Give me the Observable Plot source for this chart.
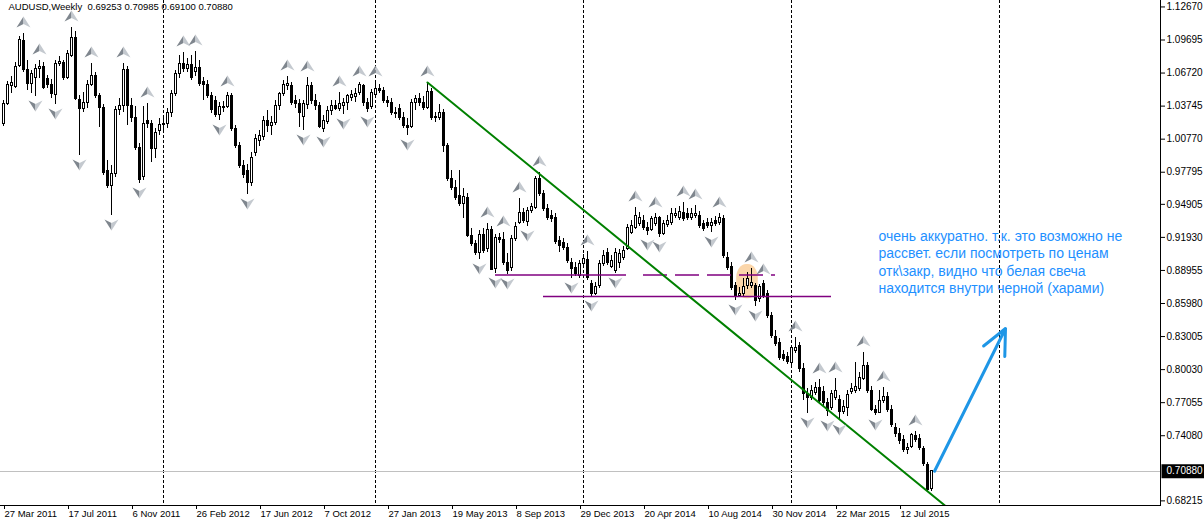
<!DOCTYPE html>
<html><head><meta charset="utf-8">
<script src="https://cdn.jsdelivr.net/npm/d3@7"></script>
<script src="https://cdn.jsdelivr.net/npm/@observablehq/plot@0.6"></script>
<style>
html,body{margin:0;padding:0;background:#fff;}
#chart{width:1204px;height:522px;overflow:hidden;}
</style></head><body><div id="chart"></div>
<script>
const symbolName = "AUDUSD,Weekly";
const firstWeek = "27 Mar 2011";

const open = [1.0218,1.0398,1.0560,1.0551,1.0740,1.0965,1.0704,1.0578,1.0632,1.0713,
1.0731,1.0623,1.0569,1.0479,1.0758,1.0767,1.0632,1.0830,1.0992,1.0434,
1.0353,1.0407,1.0569,1.0650,1.0470,1.0362,0.9795,0.9660,0.9768,1.0344,
1.0380,1.0704,1.0380,1.0272,1.0002,0.9741,1.0245,1.0218,0.9993,1.0155,
1.0209,1.0218,1.0317,1.0488,1.0668,1.0758,1.0713,1.0749,1.0686,1.0722,
1.0596,1.0569,1.0470,1.0425,1.0299,1.0371,1.0371,1.0470,1.0173,1.0020,
0.9840,0.9795,0.9687,0.9957,1.0065,1.0101,1.0245,1.0200,1.0227,1.0380,
1.0488,1.0560,1.0560,1.0425,1.0398,1.0281,1.0389,1.0560,1.0425,1.0380,
1.0173,1.0236,1.0335,1.0380,1.0353,1.0380,1.0407,1.0452,1.0461,1.0497,
1.0560,1.0407,1.0371,1.0479,1.0533,1.0515,1.0425,1.0407,1.0317,1.0353,
1.0272,1.0200,1.0191,1.0407,1.0443,1.0407,1.0362,1.0506,1.0281,1.0272,
1.0317,1.0020,0.9723,0.9642,0.9570,0.9498,0.9552,0.9210,0.9138,0.9057,
0.9219,0.9093,0.9264,0.8913,0.9192,0.9174,0.8967,0.8922,0.9183,0.9327,
0.9417,0.9336,0.9435,0.9462,0.9723,0.9588,0.9453,0.9390,0.9372,0.9165,
0.9147,0.9102,0.8967,0.8922,0.8850,0.8958,0.8994,0.8778,0.8688,0.8760,
0.8958,0.9057,0.8931,0.8895,0.8967,0.9012,0.9093,0.9237,0.9282,0.9318,
0.9345,0.9282,0.9264,0.9318,0.9372,0.9228,0.9309,0.9327,0.9390,0.9372,
0.9417,0.9408,0.9372,0.9390,0.9390,0.9318,0.9327,0.9300,0.9345,0.9327,
0.9363,0.9012,0.8931,0.8760,0.8670,0.8688,0.8760,0.8760,0.8760,0.8643,
0.8778,0.8688,0.8490,0.8301,0.8247,0.8139,0.8121,0.8067,0.8175,0.8220,
0.8013,0.7788,0.7752,0.7797,0.7842,0.7806,0.7707,0.7662,0.7752,0.7734,
0.7626,0.7662,0.7806,0.7815,0.7833,0.7923,0.8040,0.7815,0.7644,0.7617,
0.7725,0.7761,0.7644,0.7482,0.7428,0.7374,0.7284,0.7311,0.7410,0.7383,
0.7293,0.7149,0.69253];

const high = [1.0425,1.0596,1.0641,1.0767,1.1001,1.1028,1.0785,1.0695,1.0749,1.0785,
1.0767,1.0650,1.0614,1.0785,1.0821,1.0785,1.0875,1.1082,1.1046,1.0470,
1.0497,1.0605,1.0758,1.0677,1.0488,1.0389,0.9885,0.9840,1.0371,1.0443,
1.0758,1.0731,1.0443,1.0371,1.0038,1.0371,1.0398,1.0245,1.0173,1.0263,
1.0290,1.0353,1.0515,1.0695,1.0830,1.0857,1.0803,1.0830,1.0866,1.0785,
1.0632,1.0605,1.0497,1.0461,1.0407,1.0416,1.0497,1.0488,1.0200,1.0047,
0.9885,0.9849,0.9957,1.0119,1.0155,1.0281,1.0335,1.0281,1.0425,1.0497,
1.0605,1.0641,1.0587,1.0470,1.0434,1.0425,1.0632,1.0587,1.0479,1.0407,
1.0290,1.0371,1.0425,1.0425,1.0497,1.0443,1.0479,1.0515,1.0533,1.0587,
1.0569,1.0443,1.0524,1.0587,1.0569,1.0542,1.0461,1.0443,1.0362,1.0389,
1.0317,1.0263,1.0434,1.0470,1.0488,1.0461,1.0587,1.0533,1.0317,1.0389,
1.0344,1.0038,0.9795,0.9705,0.9795,0.9633,0.9588,0.9273,0.9165,0.9255,
0.9273,0.9318,0.9291,0.9219,0.9228,0.9237,0.9048,0.9210,0.9327,0.9543,
0.9453,0.9462,0.9498,0.9741,0.9777,0.9615,0.9489,0.9435,0.9408,0.9201,
0.9183,0.9138,0.9003,0.8967,0.8985,0.9039,0.9066,0.8805,0.8787,0.8985,
0.9075,0.9093,0.9030,0.9093,0.9084,0.9111,0.9309,0.9345,0.9462,0.9417,
0.9390,0.9327,0.9381,0.9408,0.9381,0.9345,0.9390,0.9453,0.9453,0.9471,
0.9507,0.9453,0.9453,0.9480,0.9426,0.9345,0.9363,0.9363,0.9381,0.9408,
0.9390,0.9057,0.8967,0.8787,0.8742,0.8823,0.8877,0.8913,0.8778,0.8769,
0.8805,0.8715,0.8517,0.8355,0.8283,0.8175,0.8157,0.8220,0.8292,0.8247,
0.8058,0.7833,0.7860,0.7887,0.7914,0.7851,0.7743,0.7815,0.7923,0.7770,
0.7725,0.7815,0.7878,0.8067,0.7977,0.8157,0.8067,0.7851,0.7680,0.7815,
0.7842,0.7797,0.7680,0.7518,0.7473,0.7410,0.7338,0.7428,0.7446,0.7419,
0.7311,0.7167,0.70985];

const low = [1.0191,1.0380,1.0488,1.0533,1.0722,1.0677,1.0515,1.0488,1.0461,1.0623,
1.0524,1.0533,1.0443,1.0389,1.0731,1.0605,1.0614,1.0812,1.0425,0.9930,
1.0317,1.0353,1.0551,1.0443,1.0182,0.9750,0.9633,0.9390,0.9732,1.0290,
1.0317,1.0200,1.0227,0.9975,0.9678,0.9705,1.0173,0.9867,0.9903,1.0110,
1.0155,1.0173,1.0272,1.0461,1.0623,1.0677,1.0677,1.0605,1.0641,1.0551,
1.0425,1.0443,1.0308,1.0272,1.0245,1.0317,1.0353,1.0146,0.9993,0.9813,
0.9723,0.9579,0.9651,0.9921,1.0011,1.0065,1.0137,1.0110,1.0200,1.0335,
1.0461,1.0515,1.0380,1.0353,1.0182,1.0155,1.0344,1.0389,1.0335,1.0173,
1.0137,1.0209,1.0290,1.0335,1.0326,1.0299,1.0335,1.0416,1.0407,1.0470,
1.0371,1.0317,1.0344,1.0452,1.0488,1.0398,1.0362,1.0290,1.0263,1.0245,
1.0173,1.0110,1.0173,1.0335,1.0371,1.0335,1.0344,1.0245,1.0227,1.0245,
0.9957,0.9696,0.9615,0.9525,0.9471,0.9363,0.9192,0.9111,0.9030,0.8994,
0.9048,0.9057,0.8895,0.8868,0.9138,0.8940,0.8859,0.8886,0.9156,0.9309,
0.9318,0.9291,0.9408,0.9444,0.9561,0.9426,0.9345,0.9327,0.9129,0.9057,
0.9075,0.8958,0.8823,0.8841,0.8823,0.8931,0.8805,0.8661,0.8670,0.8733,
0.8931,0.8940,0.8913,0.8868,0.8913,0.8985,0.9075,0.9219,0.9264,0.9291,
0.9255,0.9210,0.9246,0.9291,0.9192,0.9210,0.9282,0.9300,0.9363,0.9345,
0.9336,0.9345,0.9345,0.9363,0.9273,0.9246,0.9273,0.9237,0.9291,0.9300,
0.9003,0.8895,0.8715,0.8625,0.8652,0.8661,0.8724,0.8733,0.8571,0.8607,
0.8643,0.8463,0.8283,0.8211,0.8085,0.8076,0.8049,0.8031,0.8148,0.7977,
0.7725,0.7608,0.7725,0.7770,0.7689,0.7671,0.7581,0.7635,0.7725,0.7545,
0.7599,0.7581,0.7779,0.7788,0.7806,0.7905,0.7788,0.7626,0.7590,0.7608,
0.7698,0.7617,0.7482,0.7392,0.7329,0.7257,0.7239,0.7293,0.7347,0.7275,
0.7131,0.6897,0.69100];

const close = [1.0398,1.0569,1.0587,1.0731,1.0974,1.0704,1.0578,1.0668,1.0713,1.0731,
1.0542,1.0569,1.0488,1.0758,1.0776,1.0632,1.0848,1.0992,1.0443,1.0353,
1.0407,1.0569,1.0650,1.0470,1.0362,0.9777,0.9660,0.9768,1.0344,1.0380,
1.0704,1.0380,1.0272,1.0002,0.9714,1.0218,1.0218,0.9993,1.0137,1.0209,
1.0218,1.0317,1.0488,1.0668,1.0758,1.0713,1.0749,1.0632,1.0722,1.0578,
1.0569,1.0470,1.0344,1.0299,1.0371,1.0362,1.0470,1.0173,1.0020,0.9840,
0.9759,0.9687,0.9912,1.0083,1.0110,1.0245,1.0200,1.0227,1.0380,1.0488,
1.0569,1.0578,1.0407,1.0398,1.0317,1.0398,1.0560,1.0425,1.0380,1.0191,
1.0245,1.0335,1.0380,1.0353,1.0398,1.0407,1.0470,1.0479,1.0488,1.0569,
1.0407,1.0353,1.0497,1.0533,1.0515,1.0425,1.0407,1.0317,1.0308,1.0272,
1.0200,1.0182,1.0407,1.0443,1.0407,1.0362,1.0506,1.0272,1.0272,1.0317,
1.0020,0.9723,0.9642,0.9552,0.9498,0.9561,0.9210,0.9138,0.9057,0.9219,
0.9075,0.9264,0.8904,0.9192,0.9174,0.8967,0.8895,0.9183,0.9291,0.9417,
0.9345,0.9435,0.9471,0.9723,0.9588,0.9453,0.9372,0.9363,0.9156,0.9120,
0.9102,0.8985,0.8913,0.8868,0.8958,0.9003,0.8832,0.8688,0.8751,0.8958,
0.9030,0.8967,0.8985,0.9057,0.9048,0.9075,0.9282,0.9300,0.9390,0.9372,
0.9282,0.9255,0.9363,0.9372,0.9228,0.9318,0.9345,0.9408,0.9408,0.9426,
0.9363,0.9372,0.9408,0.9408,0.9300,0.9273,0.9300,0.9327,0.9318,0.9372,
0.9030,0.8922,0.8742,0.8670,0.8688,0.8751,0.8823,0.8787,0.8625,0.8751,
0.8670,0.8490,0.8310,0.8238,0.8112,0.8103,0.8076,0.8202,0.8202,0.8013,
0.7788,0.7752,0.7815,0.7842,0.7725,0.7707,0.7635,0.7788,0.7815,0.7626,
0.7671,0.7779,0.7833,0.7851,0.7932,0.8040,0.7815,0.7644,0.7617,0.7725,
0.7761,0.7644,0.7509,0.7428,0.7365,0.7284,0.7302,0.7419,0.7374,0.7302,
0.7158,0.6924,0.70880];

// Bill Williams fractals (week index of the bar)
const fractalUp = [5,9,17,22,30,36,45,48,56,71,76,84,89,93,106,121,125,129,134,146,158,163,170,173,179,187,190,198,204,208,215,220,228];
const fractalDown = [8,13,19,27,34,54,61,75,80,85,91,101,119,123,126,131,142,147,153,161,164,177,183,188,201,206,209,218];

const dateTickWeeks = [0,16,32,48,64,80,96,112,128,144,160,176,192,208,224];
const dateLabels = ["27 Mar 2011","17 Jul 2011","6 Nov 2011","26 Feb 2012","17 Jun 2012","7 Oct 2012","27 Jan 2013","19 May 2013","8 Sep 2013","29 Dec 2013","20 Apr 2014","10 Aug 2014","30 Nov 2014","22 Mar 2015","12 Jul 2015"];
const priceTicks = [1.12670,1.09695,1.06720,1.03745,1.00770,0.97795,0.94905,0.91930,0.88955,0.85980,0.83005,0.80030,0.77055,0.74080,0.68215];
const yearSeparatorWeeks = [40,93,145,197,249];

const trendLine = [{week:106, price:1.0587},{week:240, price:0.6643}];
const levels = [
  {from:123, to:155.75, price:0.8854, dashed:false},
  {from:160, to:193, price:0.8854, dashed:true},
  {from:135, to:207, price:0.8661, dashed:false}
];
const haramiZone = [{from:183.3, to:188.7, top:0.8950, bottom:0.8640}];
const forecastArrow = [{week1:232.75, price1:0.7088, week2:250.5, price2:0.8373}];
const noteLines = ["очень аккуратно. т.к. это возможно не","рассвет. если посмотреть по ценам","отк\\закр, видно что белая свеча","находится внутри черной (харами)"];
const noteAnchor = [{week:218.75, price:0.9273}];

// ---- build table
const candles = open.map((o, k) => ({week:k, open:o, high:high[k], low:low[k], close:close[k]}));
const last = candles[candles.length - 1];
const fmt5 = d3.format(".5f");
const titleText = symbolName + "\u00a0\u00a0" + [last.open, last.high, last.low, last.close].map(fmt5).join(" ");
const labelByWeek = new Map(dateTickWeeks.map((w, k) => [w, dateLabels[k]]));

const halfUpL = {draw(c){c.moveTo(0,-6);c.lineTo(0,1.5);c.lineTo(-7,5);c.closePath();}};
const halfUpR = {draw(c){c.moveTo(0,-6);c.lineTo(7,5);c.lineTo(0,1.5);c.closePath();}};
const halfDnL = {draw(c){c.moveTo(0,6);c.lineTo(0,-1.5);c.lineTo(-7,-5);c.closePath();}};
const halfDnR = {draw(c){c.moveTo(0,6);c.lineTo(7,-5);c.lineTo(0,-1.5);c.closePath();}};
const priceBox = {draw(c){c.rect(1,-7,44,14);}};

const bull = candles.filter(d => d.close >= d.open);
const bear = candles.filter(d => d.close < d.open);
const crisp = {shapeRendering:"crispEdges"};

const chart = Plot.plot({
  width: 1204, height: 522,
  marginLeft: 0, marginRight: 44, marginTop: 0, marginBottom: 17,
  style: {fontFamily: "'Liberation Sans', Arial, sans-serif", fontSize: "10px", background: "white", color: "black", overflow: "visible"},
  x: {domain: [-0.75, 289.25], axis: null},
  y: {domain: [0.678, 1.1325], axis: null},
  marks: [
    Plot.rect(haramiZone, {x1:"from", x2:"to", y1:"bottom", y2:"top", fill:"#fbd6aa", rx:10, ry:14}),
    Plot.ruleX(yearSeparatorWeeks, {stroke:"black", strokeDasharray:"3,2", ...crisp}),
    Plot.ruleY([last.close], {stroke:"#c0c0c0", ...crisp}),
    Plot.ruleX(candles, {x:"week", y1:"low", y2:"high", stroke:"black", ...crisp}),
    Plot.rect(bear, {x1:d=>d.week-0.375, x2:d=>d.week+0.375, y1:"open", y2:"close", fill:"black", insetTop:-0.5, insetBottom:-0.5, ...crisp}),
    Plot.rect(bull, {x1:d=>d.week-0.25, x2:d=>d.week+0.25, y1:"open", y2:"close", fill:"white", stroke:"black", strokeWidth:1, ...crisp}),
    Plot.ruleY(levels.filter(d=>!d.dashed), {y:"price", x1:"from", x2:"to", stroke:"#800080", strokeWidth:1.5}),
    Plot.ruleY(levels.filter(d=>d.dashed), {y:"price", x1:"from", x2:"to", stroke:"#800080", strokeWidth:1.5, strokeDasharray:"24,8"}),
    Plot.line(trendLine, {x:"week", y:"price", stroke:"#008000", strokeWidth:2, clip:true}),
    Plot.dot(fractalUp, {x:d=>d, y:d=>high[d], dy:-11, symbol:halfUpL, fill:"#7f868e", stroke:null}),
    Plot.dot(fractalUp, {x:d=>d, y:d=>high[d], dy:-11, symbol:halfUpR, fill:"#c4c9cf", stroke:null}),
    Plot.dot(fractalDown, {x:d=>d, y:d=>low[d], dy:9, symbol:halfDnL, fill:"#7f868e", stroke:null}),
    Plot.dot(fractalDown, {x:d=>d, y:d=>low[d], dy:9, symbol:halfDnR, fill:"#c4c9cf", stroke:null}),
    Plot.arrow(forecastArrow, {x1:"week1", y1:"price1", x2:"week2", y2:"price2", stroke:"#1e96e6", strokeWidth:3, headLength:14, headAngle:50}),
    Plot.text(noteAnchor, {x:"week", y:"price", text:()=>noteLines.join("\n"), textAnchor:"start", lineAnchor:"top", lineHeight:1.25, fontSize:14, fill:"#1e90ff"}),
    Plot.text([titleText], {frameAnchor:"top-left", text:d=>d, dx:8, dy:3, textAnchor:"start", lineAnchor:"top", fontSize:9.5, fill:"black"}),
    Plot.frame({anchor:"right", stroke:"black", ...crisp}),
    Plot.frame({anchor:"bottom", stroke:"black", ...crisp}),
    Plot.axisX({ticks:dateTickWeeks, tickFormat:w=>labelByWeek.get(w), textAnchor:"start", tickSize:4, tickPadding:1, dx:1, fontSize:9.5}),
    Plot.axisY({anchor:"right", ticks:priceTicks, tickFormat:fmt5, tickSize:4, tickPadding:2, fontSize:10}),
    Plot.dot([last.close], {y:d=>d, frameAnchor:"right", symbol:priceBox, fill:"black", stroke:null}),
    Plot.text([last.close], {y:d=>d, frameAnchor:"right", text:fmt5, dx:6, textAnchor:"start", fill:"white", fontSize:10})
  ]
});
document.getElementById("chart").appendChild(chart);
</script>
</body></html>
